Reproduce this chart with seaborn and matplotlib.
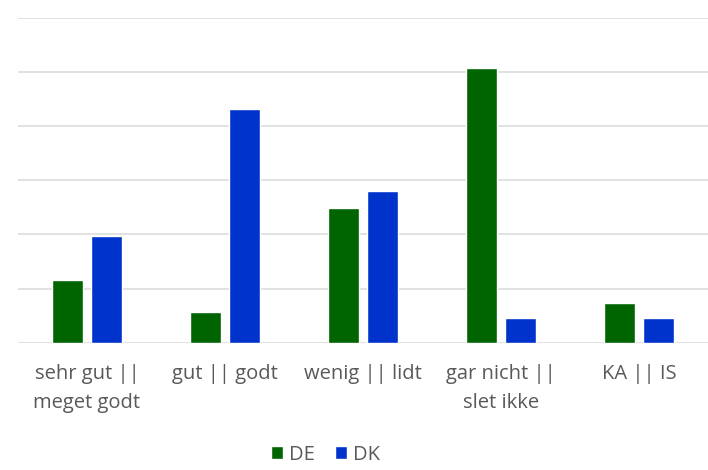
import pandas as pd
import numpy as np
import seaborn as sns
import matplotlib.pyplot as plt

# Categories (German || Danish) and share per country in percent
categories = ["sehr gut ||\nmeget godt", "gut || godt", "wenig || lidt",
              "gar nicht ||\nslet ikke", "KA || IS"]
de_values = [11.5, 5.6, 24.9, 50.7, 7.3]
dk_values = [19.8, 43.1, 28.1, 4.6, 4.6]
countries = ["DE", "DK"]
colors = ["#006400", "#0033CC"]

# Long format table for seaborn
df = pd.DataFrame({
    "category": categories * 2,
    "value": de_values + dk_values,
    "country": ["DE"] * len(categories) + ["DK"] * len(categories),
})

sns.set_style("white")
plt.rcParams['font.family'] = ['Open Sans', 'DejaVu Sans']

fig = plt.figure(figsize=(7.08, 4.70), dpi=100)
ax = fig.add_axes([0.0254, 0.2709, 0.9746, 0.6908])

sns.barplot(data=df, x="category", y="value", hue="country",
            hue_order=countries, palette=colors, width=0.572, gap=0.215,
            saturation=1, ax=ax, legend=True)

# Axis look: only light grey horizontal gridlines, no y labels
ax.set_ylim(0, 60)
ax.set_xlim(-0.5, 4.5)
ax.set_yticks(np.arange(0, 61, 10))
ax.yaxis.grid(True, color="#D9D9D9", linewidth=1.1)
ax.set_axisbelow(True)
ax.tick_params(axis="y", left=False, labelleft=False)
ax.tick_params(axis="x", bottom=False, labelsize=14.5, labelcolor="#595959", pad=12)
for lbl in ax.get_xticklabels():
    lbl.set_linespacing(1.6)
for s in ax.spines.values():
    s.set_visible(False)
ax.set_xlabel("")
ax.set_ylabel("")

# Legend below the chart
handles, labels = ax.get_legend_handles_labels()
ax.get_legend().remove()
fig.legend(handles, labels, loc="center", bbox_to_anchor=(0.46, 0.032),
           ncol=2, frameon=False, fontsize=14.5, labelcolor="#595959",
           handlelength=0.6, handleheight=0.6, handletextpad=0.3,
           columnspacing=1.0)

plt.savefig("out.png", dpi=100)
